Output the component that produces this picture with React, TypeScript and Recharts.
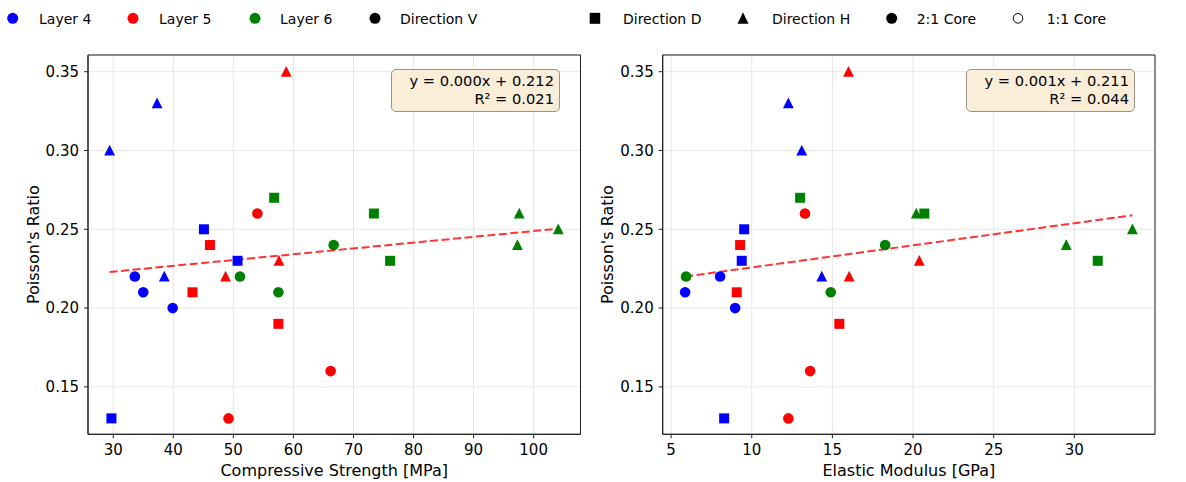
import React from 'react';
import { ScatterChart, Scatter, XAxis, YAxis, CartesianGrid, ReferenceLine, ReferenceArea, Label } from 'recharts';

const FONT = "'DejaVu Sans', 'Liberation Sans', sans-serif";

// ---- data ----
const layerNames = ['Layer 4', 'Layer 5', 'Layer 6'];
const layerColors = ['#0000ff', '#ff0000', '#008000'];
const directionNames = ['Direction V', 'Direction D', 'Direction H'];
const directions = ['H', 'H', 'H', 'D', 'D', 'D', 'V', 'V', 'V'];

const layer4Strength = [29.4, 37.3, 38.5, 45.1, 50.7, 29.7, 33.6, 35.0, 39.9];
const layer4Modulus = [13.1, 12.27, 14.34, 9.53, 9.38, 8.29, 8.04, 5.87, 8.97];
const layer4Poisson = [0.30, 0.33, 0.22, 0.25, 0.23, 0.13, 0.22, 0.21, 0.20];

const layer5Strength = [58.8, 48.7, 57.6, 46.1, 43.2, 57.5, 54.0, 66.2, 49.2];
const layer5Modulus = [16.0, 16.04, 20.39, 9.28, 9.07, 15.43, 13.3, 13.62, 12.27];
const layer5Poisson = [0.35, 0.22, 0.23, 0.24, 0.21, 0.19, 0.26, 0.16, 0.13];

const layer6Strength = [97.6, 97.3, 104.1, 56.8, 73.4, 76.1, 66.7, 51.1, 57.5];
const layer6Modulus = [20.2, 29.5, 33.6, 13.0, 20.7, 31.45, 18.27, 5.93, 14.9];
const layer6Poisson = [0.26, 0.24, 0.25, 0.27, 0.26, 0.23, 0.24, 0.22, 0.21];

const poissonDomain: [number, number] = [0.1199, 0.3606];
const poissonTicks = [0.15, 0.2, 0.25, 0.3, 0.35];
const strengthTicks = [30, 40, 50, 60, 70, 80, 90, 100];
const modulusTicks = [5, 10, 15, 20, 25, 30];

const strengthTrend = [{ x: 29.4, y: 0.2229 }, { x: 104.1, y: 0.2504 }];
const modulusTrend = [{ x: 5.87, y: 0.2200 }, { x: 33.6, y: 0.2589 }];

const strengthFit = ['y = 0.000x + 0.212', 'R² = 0.021'];
const modulusFit = ['y = 0.001x + 0.211', 'R² = 0.044'];

// ---- helpers ----
const makeShape = (dir: string, color: string) => (p: any) => {
  const { cx, cy } = p;
  if (cx == null || cy == null) return <g />;
  if (dir === 'V') return <circle cx={cx} cy={cy} r={5.3} fill={color} />;
  if (dir === 'D') return <rect x={cx - 5} y={cy - 5} width={10} height={10} fill={color} />;
  return <polygon points={`${cx},${cy - 5.8} ${cx - 5.4},${cy + 5} ${cx + 5.4},${cy + 5}`} fill={color} />;
};

function groupPoints(xs: number[], ys: number[], dir: string) {
  const out: { x: number; y: number }[] = [];
  xs.forEach((x, i) => {
    if (directions[i] === dir) out.push({ x, y: ys[i] });
  });
  return out;
}

type PanelProps = {
  width: number;
  marginLeft: number;
  marginRight: number;
  xs: number[][];
  xDomain: [number, number];
  xTicks: number[];
  xLabel: string;
  trend: { x: number; y: number }[];
  yLabelX: number;
};

const tickStyle = { fill: '#000', fontSize: 15, fontFamily: FONT };

function Panel(props: PanelProps) {
  const { width, marginLeft, marginRight, xs, xDomain, xTicks, xLabel, trend, yLabelX } = props;
  const ys = [layer4Poisson, layer5Poisson, layer6Poisson];
  return (
    <ScatterChart
      width={width}
      height={482}
      margin={{ top: 55, right: marginRight, bottom: 7.7, left: marginLeft }}
    >
      <CartesianGrid stroke="#e6e6e6" strokeWidth={1} />
      <XAxis
        type="number"
        dataKey="x"
        domain={xDomain}
        ticks={xTicks}
        allowDataOverflow
        height={40}
        tickSize={4}
        tickMargin={6}
        tick={tickStyle}
        tickLine={{ stroke: '#222' }}
        axisLine={{ stroke: '#222' }}
      >
        <Label
          content={(p: any) => {
            const vb = p.viewBox || {};
            return (
              <text x={vb.x + vb.width / 2} y={476} textAnchor="middle" fontSize={16} fontFamily={FONT} fill="#000">
                {xLabel}
              </text>
            );
          }}
        />
      </XAxis>
      <YAxis
        type="number"
        dataKey="y"
        domain={poissonDomain}
        ticks={poissonTicks}
        allowDataOverflow
        width={60}
        tickSize={4}
        tickMargin={5}
        tick={tickStyle}
        tickFormatter={(v: number) => v.toFixed(2)}
        tickLine={{ stroke: '#222' }}
        axisLine={{ stroke: '#222' }}
      >
        <Label
          content={(p: any) => {
            const vb = p.viewBox || {};
            const cy = vb.y + vb.height / 2;
            return (
              <text
                x={yLabelX}
                y={cy}
                transform={`rotate(-90, ${yLabelX}, ${cy})`}
                textAnchor="middle"
                fontSize={16}
                fontFamily={FONT}
                fill="#000"
              >
                Poisson's Ratio
              </text>
            );
          }}
        />
      </YAxis>
      <ReferenceArea
        x1={xDomain[0]}
        x2={xDomain[1]}
        y1={poissonDomain[0]}
        y2={poissonDomain[1]}
        fill="none"
        fillOpacity={0}
        stroke="#222"
        strokeWidth={1}
        ifOverflow="visible"
      />
      <ReferenceLine
        segment={trend}
        stroke="#ff3333"
        strokeWidth={2}
        strokeDasharray="8 3.5"
        ifOverflow="visible"
      />
      {[0, 1, 2].map((li) =>
        ['V', 'D', 'H'].map((dir) => (
          <Scatter
            key={`${li}-${dir}`}
            data={groupPoints(xs[li], ys[li], dir)}
            isAnimationActive={false}
            shape={makeShape(dir, layerColors[li])}
          />
        ))
      )}
    </ScatterChart>
  );
}

function FitBox({ left, top, width, lines }: { left: number; top: number; width: number; lines: string[] }) {
  return (
    <div
      style={{
        position: 'absolute',
        left,
        top,
        width,
        height: 43,
        boxSizing: 'border-box',
        border: '1px solid #9a9288',
        borderRadius: 5,
        background: '#faeed9',
        fontFamily: FONT,
        fontSize: 14.67,
        lineHeight: '18.3px',
        textAlign: 'right',
        padding: '2px 5px 0 0',
        color: '#000',
      }}
    >
      {lines.map((l) => (
        <div key={l}>{l}</div>
      ))}
    </div>
  );
}

function Legend() {
  const items: { x: number; tx: number; label: string; kind: string; color: string }[] = [
    { x: 12.7, tx: 39, label: layerNames[0], kind: 'circle', color: layerColors[0] },
    { x: 133, tx: 159, label: layerNames[1], kind: 'circle', color: layerColors[1] },
    { x: 255, tx: 280, label: layerNames[2], kind: 'circle', color: layerColors[2] },
    { x: 375, tx: 400, label: directionNames[0], kind: 'circle', color: '#000' },
    { x: 594.7, tx: 623, label: directionNames[1], kind: 'square', color: '#000' },
    { x: 743, tx: 772, label: directionNames[2], kind: 'triangle', color: '#000' },
    { x: 891.7, tx: 916.7, label: '2:1 Core', kind: 'circle', color: '#000' },
    { x: 1018, tx: 1046.7, label: '1:1 Core', kind: 'hollow', color: '#000' },
  ];
  const cy = 18.3;
  return (
    <svg width={1186} height={40} style={{ position: 'absolute', left: 0, top: 0 }}>
      {items.map((it) => (
        <g key={it.label}>
          {it.kind === 'circle' && <circle cx={it.x} cy={cy} r={5.5} fill={it.color} />}
          {it.kind === 'hollow' && <circle cx={it.x} cy={cy} r={4.8} fill="none" stroke="#000" strokeWidth={1} />}
          {it.kind === 'square' && <rect x={it.x - 5} y={cy - 5.5} width={10.5} height={11} fill="#000" />}
          {it.kind === 'triangle' && (
            <polygon points={`${it.x},${cy - 6} ${it.x - 5.5},${cy + 5.5} ${it.x + 5.5},${cy + 5.5}`} fill="#000" />
          )}
          <text x={it.tx} y={23.6} fontSize={14} fontFamily={FONT} fill="#000">
            {it.label}
          </text>
        </g>
      ))}
    </svg>
  );
}

export default function App() {
  return (
    <div style={{ position: 'absolute', left: 0, top: 0, width: 1186, height: 482, background: '#fff', fontFamily: FONT }}>
      <div style={{ position: 'absolute', left: 0, top: 0 }}>
        <Panel
          width={590}
          marginLeft={28}
          marginRight={9.5}
          xs={[layer4Strength, layer5Strength, layer6Strength]}
          xDomain={[25.8, 107.8]}
          xTicks={strengthTicks}
          xLabel="Compressive Strength [MPa]"
          trend={strengthTrend}
          yLabelX={39}
        />
      </div>
      <div style={{ position: 'absolute', left: 590, top: 0 }}>
        <Panel
          width={596}
          marginLeft={12.7}
          marginRight={31}
          xs={[layer4Modulus, layer5Modulus, layer6Modulus]}
          xDomain={[4.48, 35.0]}
          xTicks={modulusTicks}
          xLabel="Elastic Modulus [GPa]"
          trend={modulusTrend}
          yLabelX={23}
        />
      </div>
      <Legend />
      <FitBox left={391} top={69} width={169} lines={strengthFit} />
      <FitBox left={965.7} top={69} width={169.3} lines={modulusFit} />
    </div>
  );
}
